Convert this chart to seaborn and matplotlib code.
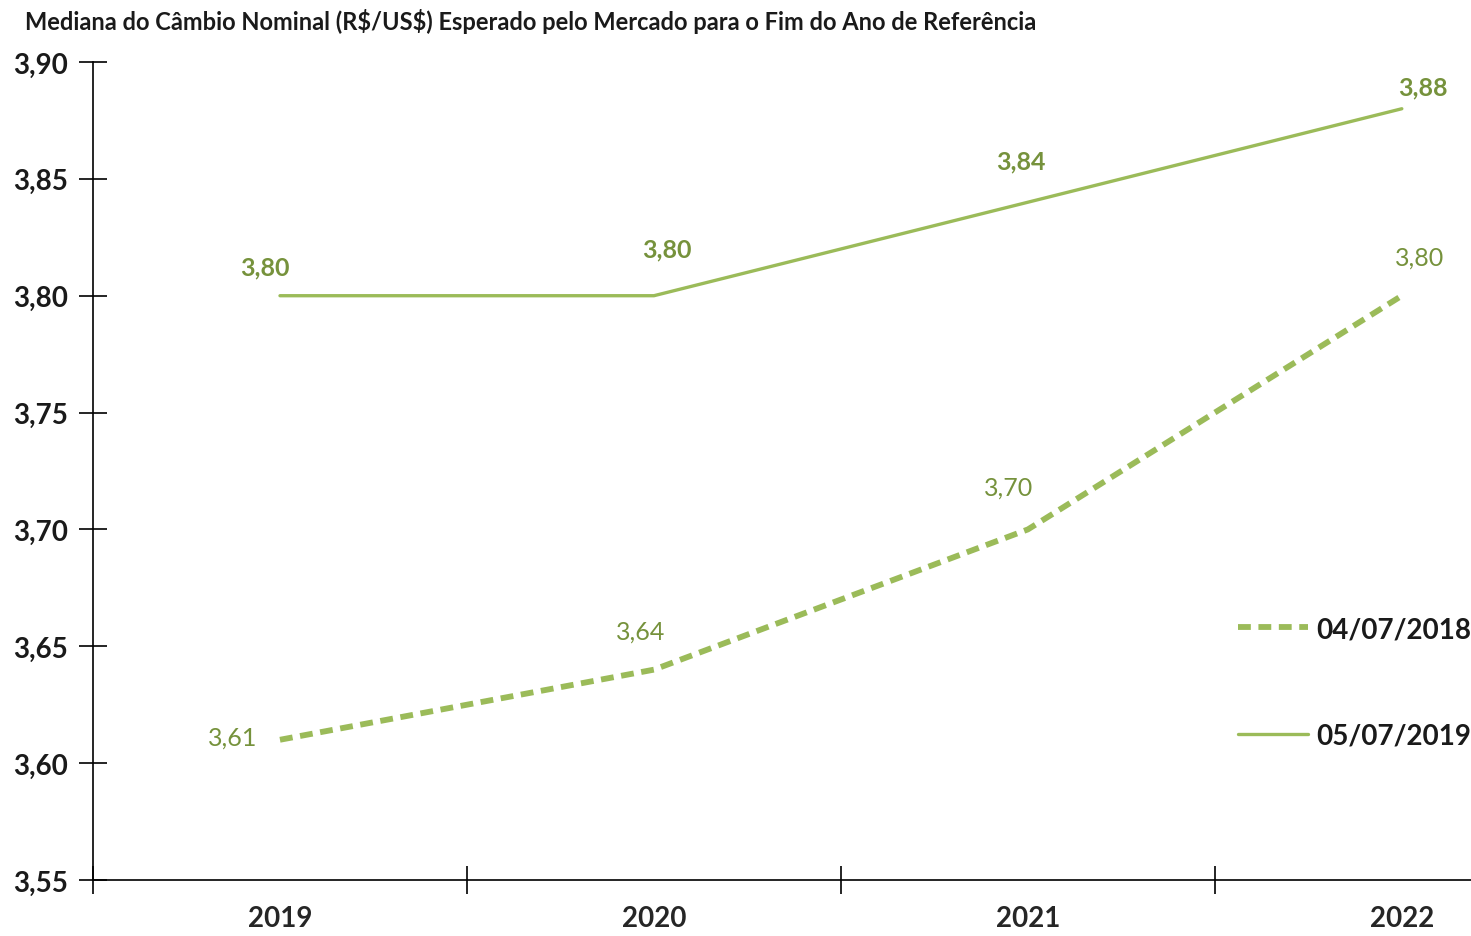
import pandas as pd
import matplotlib.pyplot as plt
import seaborn as sns

# Dữ liệu
anos = ["2019", "2020", "2021", "2022"]
serie_2018 = [3.61, 3.64, 3.70, 3.80]
serie_2019 = [3.80, 3.80, 3.84, 3.88]
nomes = ["04/07/2018", "05/07/2019"]
y_ticks = [3.55, 3.60, 3.65, 3.70, 3.75, 3.80, 3.85, 3.90]

verde = "#9BBB59"
verde_texto = "#76923C"

df = pd.DataFrame({
    "pos": list(range(len(anos))) * 2,
    "valor": serie_2018 + serie_2019,
    "serie": [nomes[0]] * 4 + [nomes[1]] * 4,
})

sns.set_style("white")
plt.rcParams["font.family"] = ["Lato", "DejaVu Sans"]

fig = plt.figure(figsize=(14.71, 9.37), dpi=100)
ax = fig.add_axes([93 / 1471, 1 - 881 / 937, 1 - 93 / 1471, (881 - 63) / 937])

d1 = df[df["serie"] == nomes[0]]
d2 = df[df["serie"] == nomes[1]]
sns.lineplot(data=d1, x="pos", y="valor", ax=ax, color=verde, lw=4.2,
             linestyle=(0, (2.2, 1.3)), label=nomes[0])
sns.lineplot(data=d2, x="pos", y="valor", ax=ax, color=verde, lw=2.4,
             label=nomes[1])

ax.set_xlim(-0.5, 3.185)
ax.set_ylim(3.55, 3.90)
ax.set_yticks(y_ticks)
ax.set_yticklabels([f"{v:.2f}".replace(".", ",") for v in y_ticks],
                   fontweight="bold")
ax.set_xticks([-0.5, 0.5, 1.5, 2.5])
ax.set_xticklabels([])
ax.set_xticks(range(len(anos)), minor=True)
ax.set_xticklabels(anos, minor=True, fontsize=20, fontweight="bold")
ax.tick_params(axis="x", which="major", bottom=True, direction="inout", length=20,
               width=1.2, color="black")
ax.tick_params(axis="x", which="minor", bottom=True, length=0, pad=18)
ax.tick_params(axis="y", left=True, direction="inout", length=20, width=1.2,
               color="black", labelsize=20, pad=8, labelcolor="#1a1a1a")
ax.set_xlabel("")
ax.set_ylabel("")

for s in ["top", "right"]:
    ax.spines[s].set_visible(False)
for s in ["left", "bottom"]:
    ax.spines[s].set_color("black")
    ax.spines[s].set_linewidth(1.2)

# Rótulos dos dados
off_2018 = [(-47, 3), (-13, 39), (-19, 42), (18, 39)]
off_2019 = [(-15, 29), (13, 47), (-7, 41), (21, 22)]
for i, v in enumerate(serie_2018):
    ax.annotate(f"{v:.2f}".replace(".", ","), (i, v), xytext=off_2018[i],
                textcoords="offset pixels", ha="center", va="center",
                fontsize=18, color=verde_texto)
for i, v in enumerate(serie_2019):
    ax.annotate(f"{v:.2f}".replace(".", ","), (i, v), xytext=off_2019[i],
                textcoords="offset pixels", ha="center", va="center",
                fontsize=18, fontweight="bold", color=verde_texto)

leg = ax.legend(loc="upper right", bbox_to_anchor=(1471 / 1471, 1 - 617 / 937),
                bbox_transform=fig.transFigure, frameon=False, handlelength=2.5,
                handletextpad=0.3, labelspacing=2.9, borderpad=0, borderaxespad=0,
                prop={"size": 20, "weight": "bold"})
for t in leg.get_texts():
    t.set_color("#1a1a1a")

fig.text(25 / 1471, 1 - 22 / 937,
         "Mediana do Câmbio Nominal (R\\$/US\\$) Esperado pelo Mercado para o Fim do Ano de Referência",
         fontsize=17, fontweight="bold", va="center", ha="left", color="#1a1a1a")

fig.savefig("out.png", dpi=100)
